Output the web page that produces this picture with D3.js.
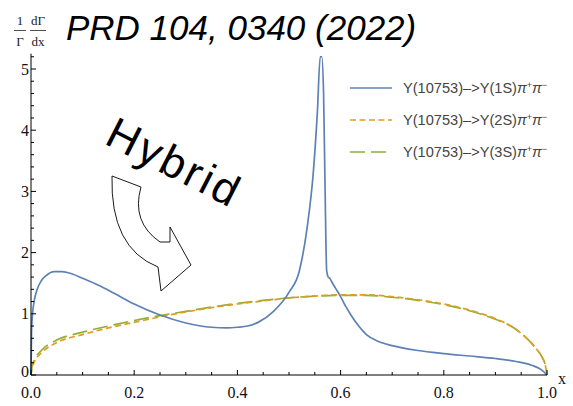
<!DOCTYPE html>
<html>
<head>
<meta charset="utf-8">
<script src="https://cdn.jsdelivr.net/npm/d3@7"></script>
<style>
  html, body { margin: 0; padding: 0; background: #fff; }
  svg { display: block; }
</style>
</head>
<body>
<svg id="chart" width="573" height="406"></svg>
<script>
// Differential width (1/Γ dΓ/dx) of Y(10753) -> Y(nS) π+ π-
const x1S = [0, 0.001, 0.003, 0.006, 0.012, 0.02, 0.03, 0.045, 0.06, 0.08, 0.1, 0.13, 0.16, 0.2,
  0.25, 0.3, 0.35, 0.38, 0.4, 0.42, 0.44, 0.47, 0.5, 0.52, 0.535, 0.547, 0.555, 0.5605, 0.5635,
  0.567, 0.57, 0.573, 0.576, 0.579, 0.583, 0.59, 0.6, 0.61, 0.62, 0.635, 0.65, 0.67, 0.7, 0.75,
  0.8, 0.85, 0.9, 0.94, 0.97, 0.99, 1.0];
const y1S = [0, 0.7, 1.0, 1.2, 1.4, 1.54, 1.63, 1.69, 1.69, 1.65, 1.58, 1.47, 1.34, 1.16,
  0.98, 0.85, 0.78, 0.77, 0.78, 0.80, 0.86, 1.04, 1.35, 1.7, 2.4, 3.3, 4.3, 5.2, 5.2,
  4.6, 3.0, 1.7, 1.6, 1.58, 1.52, 1.42, 1.28, 1.12, 0.98, 0.80, 0.66, 0.56, 0.48, 0.40,
  0.35, 0.31, 0.27, 0.22, 0.16, 0.08, 0];

const xNS = [0, 0.002, 0.005, 0.02, 0.05, 0.1, 0.15, 0.2, 0.25, 0.3, 0.35, 0.4, 0.45, 0.5, 0.55,
  0.6, 0.65, 0.7, 0.75, 0.8, 0.85, 0.9, 0.93, 0.95, 0.97, 0.98, 0.99, 0.997, 1.0];
const y2S = [0, 0.12, 0.19, 0.36, 0.53, 0.66, 0.77, 0.86, 0.95, 1.03, 1.10, 1.16, 1.21, 1.26, 1.29,
  1.31, 1.31, 1.28, 1.23, 1.16, 1.06, 0.92, 0.80, 0.68, 0.52, 0.42, 0.30, 0.15, 0];
const y3S = [0, 0.14, 0.22, 0.40, 0.57, 0.70, 0.80, 0.89, 0.97, 1.04, 1.11, 1.17, 1.22, 1.26, 1.29,
  1.30, 1.30, 1.27, 1.22, 1.15, 1.05, 0.91, 0.80, 0.68, 0.52, 0.42, 0.30, 0.15, 0];

const legendLabels = ["Y(10753)\u2013>Y(1S)", "Y(10753)\u2013>Y(2S)", "Y(10753)\u2013>Y(3S)"];
const xTickLabels = ["0.0", "0.2", "0.4", "0.6", "0.8", "1.0"];
const yTickLabels = ["0", "1", "2", "3", "4", "5"];

const colors = ["#5e81b5", "#e19c24", "#8fb032"];
const dashes = [null, "6,3.5", "15,6"];

const svg = d3.select("#chart");
const x = d3.scaleLinear().domain([0, 1]).range([31, 547]);
const y = d3.scaleLinear().domain([0, 5.25]).range([375, 53.7]);

// Curves
const series = [
  x1S.map((v, i) => [v, y1S[i]]),
  xNS.map((v, i) => [v, y2S[i]]),
  xNS.map((v, i) => [v, y3S[i]])
];
const line = d3.line().x(d => x(d[0])).y(d => y(d[1])).curve(d3.curveMonotoneX);
// 3S (long dashes) first so the short orange dashes show on top; 1S last
[2, 1, 0].forEach(k => {
  svg.append("path")
    .attr("d", line(series[k]))
    .attr("fill", "none")
    .attr("stroke", colors[k])
    .attr("stroke-width", 1.7)
    .attr("stroke-dasharray", dashes[k])
    .attr("stroke-linejoin", "round");
});

// Axes crossing at the origin, ticks pointing inward
const axisG = svg.append("g").attr("stroke", "#000").attr("stroke-width", 1);
axisG.append("line").attr("x1", x(0)).attr("x2", x(1)).attr("y1", y(0)).attr("y2", y(0));
axisG.append("line").attr("x1", x(0)).attr("x2", x(0)).attr("y1", y(0)).attr("y2", y(5.25));

d3.range(0, 1.0001, 0.05).forEach(t => {
  const major = Math.abs(t * 5 - Math.round(t * 5)) < 1e-6;
  axisG.append("line").attr("x1", x(t)).attr("x2", x(t))
    .attr("y1", y(0)).attr("y2", y(0) - (major ? 5 : 3));
});
d3.range(0, 5.2001, 0.2).forEach(t => {
  const major = Math.abs(t - Math.round(t)) < 1e-6;
  axisG.append("line").attr("x1", x(0)).attr("x2", x(0) + (major ? 5 : 3))
    .attr("y1", y(t)).attr("y2", y(t));
});

const serif = "'Liberation Serif', 'DejaVu Serif', serif";
svg.append("g").selectAll("text").data(xTickLabels).join("text")
  .attr("x", d => x(+d)).attr("y", 398)
  .attr("text-anchor", "middle")
  .attr("font-family", serif).attr("font-size", 16).attr("fill", "#111")
  .text(d => d);
svg.append("g").selectAll("text").data(yTickLabels).join("text")
  .attr("x", 29).attr("y", d => y(+d) + (+d === 0 ? 2 : 5.5))
  .attr("text-anchor", "end")
  .attr("font-family", serif).attr("font-size", 16).attr("fill", "#111")
  .text(d => d);
svg.append("text").attr("x", 558).attr("y", 384)
  .attr("font-family", serif).attr("font-size", 16).attr("fill", "#111").text("x");

// y-axis label: (1/Γ)(dΓ/dx)
const lab = svg.append("g").attr("font-family", serif).attr("font-size", 13).attr("fill", "#222")
  .attr("text-anchor", "middle");
lab.append("text").attr("x", 20).attr("y", 25).text("1");
lab.append("text").attr("x", 20).attr("y", 46).text("\u0393");
lab.append("text").attr("x", 38).attr("y", 25).text("d\u0393");
lab.append("text").attr("x", 38).attr("y", 46).text("dx");
lab.append("line").attr("x1", 14).attr("x2", 26).attr("y1", 30.5).attr("y2", 30.5)
  .attr("stroke", "#222").attr("stroke-width", 0.8);
lab.append("line").attr("x1", 30).attr("x2", 46).attr("y1", 30.5).attr("y2", 30.5)
  .attr("stroke", "#222").attr("stroke-width", 0.8);

// Title
svg.append("text").attr("x", 66).attr("y", 40)
  .attr("font-family", "'Liberation Sans', Arial, sans-serif")
  .attr("font-style", "italic").attr("font-size", 35).attr("fill", "#000")
  .text("PRD 104, 0340 (2022)");

// Legend
const sans = "'Liberation Sans', Arial, sans-serif";
const leg = svg.append("g");
legendLabels.forEach((txt, k) => {
  const ly = 88 + k * 32;
  leg.append("line").attr("x1", 350).attr("x2", 392).attr("y1", ly).attr("y2", ly)
    .attr("stroke", colors[k]).attr("stroke-width", 1.7)
    .attr("stroke-dasharray", dashes[k]);
  const t = leg.append("text").attr("x", 403).attr("y", ly + 4.8)
    .attr("font-family", sans).attr("font-size", 14.6).attr("fill", "#444");
  t.append("tspan").text(txt);
  t.append("tspan").attr("font-style", "italic").text("\u03c0");
  t.append("tspan").attr("font-size", 9).attr("dy", -5).text("+");
  t.append("tspan").attr("font-style", "italic").attr("dy", 5).text("\u03c0");
  t.append("tspan").attr("font-size", 9).attr("dy", -5).text("\u2212");
});

// "Hybrid" annotation with hollow curved arrow
svg.append("text")
  .attr("transform", "translate(103,143) rotate(27)")
  .attr("font-family", sans).attr("font-size", 44).attr("letter-spacing", 3)
  .attr("fill", "#000")
  .text("Hybrid");

svg.append("path")
  .attr("d", "M112,176 L141,187 Q131,222 160,242 L170,242 L170,227 L191,265 " +
             "L161,291 L158,267 Q110,248 112,176 Z")
  .attr("fill", "#fff").attr("stroke", "#000").attr("stroke-width", 0.9)
  .attr("stroke-linejoin", "miter");
</script>
</body>
</html>
